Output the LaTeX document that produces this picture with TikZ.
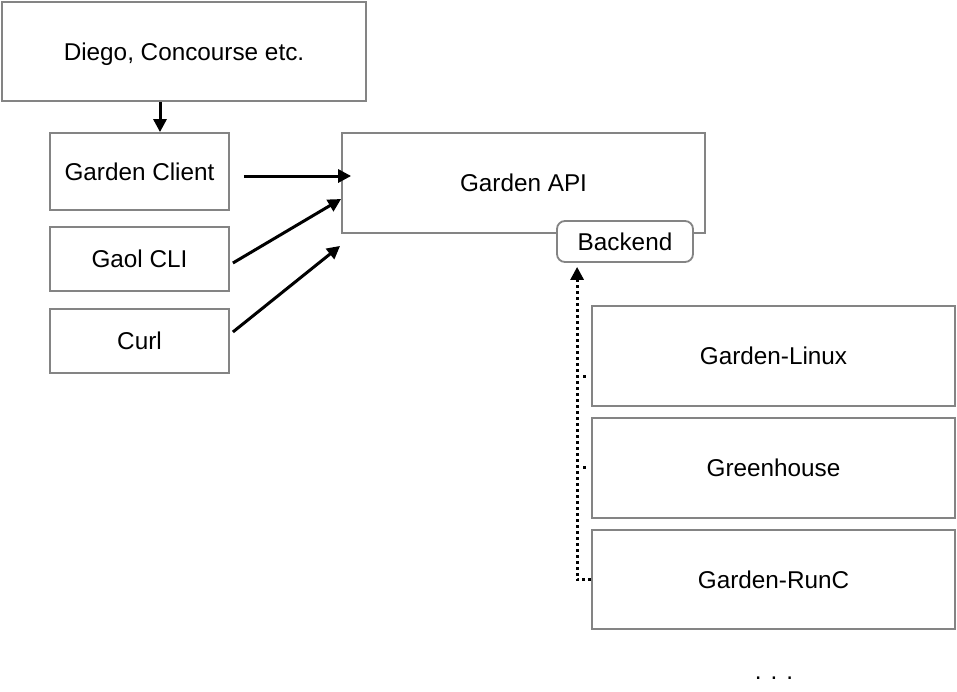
\documentclass[tikz,border=0pt]{standalone}
\usepackage{fontspec}
\setmainfont{Liberation Sans}
\usetikzlibrary{arrows.meta,calc}
\definecolor{boxgray}{RGB}{132,132,132}
\tikzset{
  box/.style={draw=boxgray, line width=1.8pt, fill=white, inner sep=0pt,
    font=\fontsize{24.3}{28}\selectfont, text=black, text depth=0pt, text height=17pt},
  arr/.style={line width=3pt, -{Triangle[length=13pt,width=13pt]}},
  dotline/.style={line width=3pt, dash pattern=on 3pt off 3pt},
  dotarr/.style={dotline, -{Triangle[length=13pt,width=13pt]}},
}
\begin{document}
\begin{tikzpicture}[x=1pt,y=-1pt]
\useasboundingbox (0,0) rectangle (957,691);
\node[box, minimum width=364pt, minimum height=99pt] (diego) at (184,51.5) {Diego, Concourse etc.};
\node[box, minimum width=179pt, minimum height=77pt] (client) at (139.5,171.5) {Garden Client};
\node[box, minimum width=179pt, minimum height=64pt] (gaol) at (139.5,259) {Gaol CLI};
\node[box, minimum width=179pt, minimum height=64pt] (curl) at (139.5,341) {Curl};
\node[box, minimum width=363pt, minimum height=100pt] (api) at (523.5,183) {Garden API};
\node[box, rounded corners=8pt, minimum width=136pt, minimum height=41pt] (backend) at (625,241.5) {Backend};
\node[box, minimum width=363pt, minimum height=100pt] (linux) at (773.5,356) {Garden-Linux};
\node[box, minimum width=363pt, minimum height=100pt] (green) at (773.5,468) {Greenhouse};
\node[box, minimum width=363pt, minimum height=99pt] (runc) at (773.5,579.5) {Garden-RunC};
\node[anchor=base, inner sep=0pt, font=\fontsize{24.3}{28}\selectfont] (more) at (774,679) {. . .};

\draw[arr] (diego.south -| 160,0) -- (client.north -| 160,0);
\draw[arr] ($(client.east)+(14,4.5)$) -- ($(api.west)+(10,-7)$);
\draw[arr] ($(gaol.east)+(3,4)$) -- ($(api.west)+(0,16)$);
\draw[arr] ($(curl.east)+(3,-9)$) -- ($(api.south west)+(-1,12)$);

\draw[dotarr] (runc.west) -- ++(-14,0) coordinate (bend) -- ($(bend |- backend.south)+(0,4)$);
\fill ($(linux.west)+(-8.5,18.5)$) rectangle ++(3,3);
\fill ($(green.west)+(-8.5,-2)$) rectangle ++(3,3);
\end{tikzpicture}
\end{document}
